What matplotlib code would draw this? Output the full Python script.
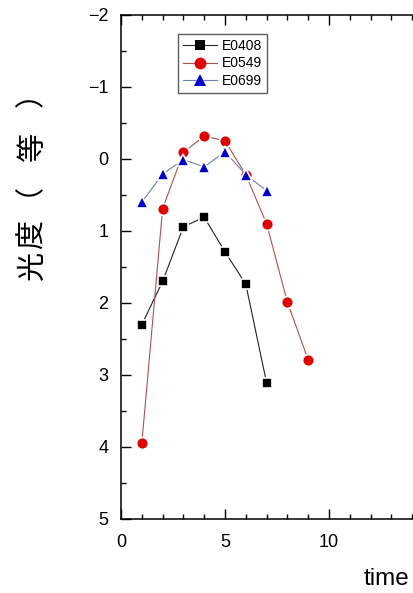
import matplotlib.pyplot as plt
from matplotlib.ticker import MultipleLocator

plt.rcParams['font.family'] = ['Liberation Sans', 'Noto Sans CJK JP', 'DejaVu Sans']

# Light curves: magnitude against time for three events
t_e0408 = [1, 2, 3, 4, 5, 6, 7]
mag_e0408 = [2.30, 1.70, 0.94, 0.81, 1.29, 1.74, 3.11]

t_e0549 = [1, 2, 3, 4, 5, 6, 7, 8, 9]
mag_e0549 = [3.95, 0.69, -0.09, -0.32, -0.25, 0.22, 0.90, 1.99, 2.79]

t_e0699 = [1, 2, 3, 4, 5, 6, 7]
mag_e0699 = [0.60, 0.21, 0.01, 0.11, -0.10, 0.22, 0.44]

# y label, one character per entry with its anchor (figure fraction);
# the full-width brackets sit off-centre in their glyph box, hence the offsets
ylabel_chars = ['光', '度', '（', '等', '）']
ylabel_x = [0.0795, 0.0795, 0.0302, 0.0795, 0.078]
ylabel_y = [0.5530, 0.6051, 0.6943, 0.7509, 0.8445]

fig = plt.figure(figsize=(4.14, 5.93), dpi=100)
# axes run off the right edge of the figure on purpose
ax = fig.add_axes([0.2923, 0.1248, 0.7486, 0.85])

ax.plot(t_e0408, mag_e0408, color='#222222', lw=0.8, marker='s', ms=7.5,
        mfc='black', mec='white', mew=1.2, label='E0408')
ax.plot(t_e0549, mag_e0549, color='#b05050', lw=0.8, marker='o', ms=8.5,
        mfc='#e00000', mec='white', mew=1.2, label='E0549')
ax.plot(t_e0699, mag_e0699, color='#6f7fb8', lw=0.8, marker='^', ms=9,
        mfc='#0000cc', mec='white', mew=1.2, label='E0699')

ax.set_xlim(0, 14.9)
ax.set_ylim(5, -2)

ax.xaxis.set_major_locator(MultipleLocator(5))
ax.xaxis.set_minor_locator(MultipleLocator(1))
ax.yaxis.set_major_locator(MultipleLocator(1))
ax.yaxis.set_minor_locator(MultipleLocator(0.5))

for s in ax.spines.values():
    s.set_linewidth(1.1)
ax.tick_params(which='both', direction='in', top=True, right=False, width=1.0,
               labelsize=13)
ax.tick_params(which='major', length=7.5)
ax.tick_params(which='minor', length=3.8)
ax.tick_params(axis='x', which='major', pad=11)
ax.tick_params(axis='y', which='major', pad=9)

leg = ax.legend(loc='upper left', bbox_to_anchor=(0.183, 0.962), fontsize=10,
                frameon=True, fancybox=False, edgecolor='#333333',
                handlelength=2.5, handletextpad=0.35, borderpad=0.35,
                labelspacing=0.25, borderaxespad=0)
leg.get_frame().set_linewidth(1.0)
for h in leg.legend_handles:
    h.set_markeredgewidth(0)

for ch, xp, yp in zip(ylabel_chars, ylabel_x, ylabel_y):
    fig.text(xp, yp, ch, rotation=90, ha='center', va='center', fontsize=21)
fig.text(0.933, 0.024, 'time', ha='center', va='center', fontsize=17.5)

fig.savefig('out.png', dpi=100)
